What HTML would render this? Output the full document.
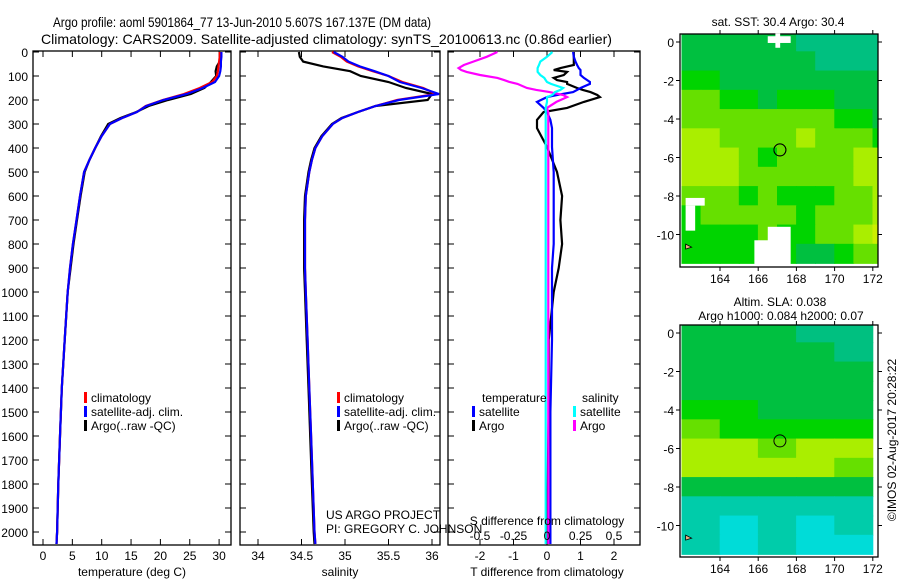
<!DOCTYPE html>
<html><head><meta charset="utf-8"><style>
body{margin:0;background:#fff}
svg{display:block;font-family:"Liberation Sans",sans-serif}
</style></head><body>
<svg id="c" width="900" height="580" viewBox="0 0 900 580">
<text x="53" y="27" font-size="14" textLength="378" lengthAdjust="spacingAndGlyphs">Argo profile: aoml 5901864_77 13-Jun-2010 5.607S 167.137E (DM data)</text>
<text x="41" y="44" font-size="14" textLength="571" lengthAdjust="spacingAndGlyphs">Climatology: CARS2009. Satellite-adjusted climatology: synTS_20100613.nc (0.86d earlier)</text>
</svg>
<script>
// ---- profile data ----
const depths=[0,20,40,60,80,100,125,150,175,200,225,250,275,300,350,400,450,500,600,700,800,900,1000,1200,1400,1600,1800,2000,2050];
const tempClim=[30.1,30.1,30.0,29.9,29.8,29.6,28.8,26.7,24,20.4,17.5,16.0,13.5,11.4,10,8.9,7.9,7.0,6.3,5.7,5.1,4.6,4.2,3.7,3.2,2.9,2.6,2.4,2.3];
const tempSat=[30.4,30.4,30.3,30.3,30.2,30.0,29.3,27.2,24.5,20.5,17.6,16.0,13.5,11.4,10,8.9,7.9,7.0,6.3,5.7,5.1,4.6,4.2,3.7,3.2,2.9,2.6,2.4,2.3];
const tempArgo=[30.1,30.2,30.1,29.6,29.4,29.5,28.6,27.5,25.2,21.3,18.0,15.9,13.2,11.1,9.9,8.9,7.9,7.1,6.4,5.8,5.2,4.7,4.2,3.7,3.2,2.9,2.6,2.4,2.3];
const salClim=[34.85,34.95,35.02,35.15,35.32,35.50,35.66,35.9,36.05,35.6,35.35,35.15,34.97,34.86,34.74,34.66,34.62,34.59,34.55,34.54,34.54,34.54,34.55,34.57,34.59,34.61,34.63,34.65,34.66];
const salSat=[34.87,34.97,35.04,35.17,35.34,35.50,35.63,35.88,36.08,35.62,35.35,35.15,34.97,34.86,34.74,34.66,34.62,34.59,34.55,34.54,34.54,34.54,34.55,34.57,34.59,34.61,34.63,34.65,34.66];
const salArgo=[34.47,34.48,34.52,34.75,35.06,35.18,35.5,35.7,36.0,35.95,35.35,35.15,34.96,34.85,34.73,34.65,34.61,34.58,34.54,34.53,34.53,34.53,34.54,34.56,34.58,34.6,34.62,34.64,34.65];
const diffDepths=[0,20,40,54,67,75,83,96,108,117,125,133,150,158,167,179,188,208,233,250,283,317,396,500,600,700,800,900,1000,1200,1500,2000,2050];
const tDiffSat=[.78,.8,.85,.9,.95,1.0,1.0,1.0,1.1,1.2,1.28,1.28,1.0,.9,.78,.3,0,-.3,-.1,0,.1,.15,.15,.2,.2,.2,.2,.15,.15,.15,.1,.1,.1];
const tDiffArgo=[.8,.8,.8,.8,.4,.2,.6,.5,.2,.3,.6,.6,.9,1.07,1.3,1.5,1.58,1.1,.6,-.1,-.3,-.3,0,.3,.45,.4,.45,.35,.2,.05,.05,0,0];
const sDiffSat=[.04,0,-.05,-.06,-.07,-.07,-.07,-.05,-.02,-.01,0,.03,.12,.1,.06,.04,0,0,-.01,-.01,-.01,-.01,-.01,-.01,-.01,-.01,-.01,-.01,-.01,-.01,-.01,-.01,-.01];
const sDiffArgo=[-.37,-.45,-.55,-.62,-.66,-.64,-.6,-.5,-.37,-.32,-.28,-.22,-.15,-.08,.02,.12,.15,.07,0,.01,.01,.01,.01,.01,.01,.01,.01,.01,.01,.01,.01,.01,.01];
const depthTicks=[0,100,200,300,400,500,600,700,800,900,1000,1100,1200,1300,1400,1500,1600,1700,1800,1900,2000];
const tempTicks=[0,5,10,15,20,25,30];
const salTicks=[34,34.5,35,35.5,36];
const tdTicks=[-2,-1,0,1,2];
const sdTicks=[-0.5,-0.25,0,0.25,0.5];
const sdTickLabels=["-0.5","-0.25","0","0.25","0.5"];
// ---- map data (levels) rows lat 0.5..-11.5 by 1deg, cols lon 162..172 ----
const sstGrid=[
[1,1,1,1,1,1,0,0,0,0,0],
[1,1,1,1,1,1,1,0,0,0,0],
[2,2,1,1,1,1,1,1,1,1,1],
[3,3,2,2,1,2,2,2,1,1,1],
[3,3,3,3,3,3,3,3,2,2,1],
[4,4,3,3,3,3,4,3,3,3,2],
[4,4,4,3,2,3,3,3,3,4,4],
[4,4,4,3,3,3,3,3,3,4,4],
[3,3,3,2,3,2,2,2,3,3,4],
[2,3,3,3,3,3,2,3,3,3,4],
[2,2,2,2,3,2,2,3,3,4,5],
[2,2,2,2,2,2,1,1,2,3,3]];
const slaGrid=[
[1,1,1,0,0],[1,1,1,1,0],[1,1,1,1,1],[1,1,1,1,1],[2,2,1,1,1],[3,2,2,2,2],
[4,4,3,4,4],[4,4,4,4,3],[1,1,1,1,1],[6,6,6,6,6],[6,7,6,7,6],[6,7,6,7,7]];
const lonTicks=[164,166,168,170,172];
const latTicks=[0,-2,-4,-6,-8,-10];
const floatLon=167.137, floatLat=-5.607;

const NS='http://www.w3.org/2000/svg';
const svg=document.getElementById('c');
function mk(tag,attrs,parent){const e=document.createElementNS(NS,tag);for(const k in attrs)e.setAttribute(k,attrs[k]);(parent||svg).appendChild(e);return e;}
function txt(x,y,s,size,anchor,parent){const t=mk('text',{x:x,y:y,'font-size':size||12,'text-anchor':anchor||'start'},parent);t.textContent=s;return t;}
const Y=d=>52+0.24*d;
const TOP=51,BOT=545;

function panel(name,x0,x1,X,ticks,labels,ylabels){
  const g=mk('g',{});
  
  
  const f=mk('rect',{x:x0,y:TOP,width:x1-x0,height:BOT-TOP,fill:'none',stroke:'#000','stroke-width':1.3},g);
  
  
  depthTicks.forEach(d=>{
    mk('line',{x1:x0,x2:x0+6,y1:Y(d),y2:Y(d),stroke:'#000'},g);
    mk('line',{x1:x1,x2:x1-6,y1:Y(d),y2:Y(d),stroke:'#000'},g);
    if(ylabels){const t=txt(28,Y(d)+5,String(d),12,'end',g);
      
      }
  });
  ticks.forEach((v,i)=>{
    mk('line',{x1:X(v),x2:X(v),y1:TOP,y2:TOP+6,stroke:'#000'},g);
    mk('line',{x1:X(v),x2:X(v),y1:BOT,y2:BOT-6,stroke:'#000'},g);
    if(labels){const t=txt(X(v),560,labels[i],12,'middle',g);
      
      }
  });
  return g;
}
function line(vals,dep,X,color,name,w){
  const p=mk('polyline',{points:vals.map((v,i)=>X(v).toFixed(1)+','+Y(dep[i]).toFixed(1)).join(' '),fill:'none',stroke:color,'stroke-width':w||2.2});
  
  
}
function legend(x,y,items){
  items.forEach((it,i)=>{
    const r=mk('rect',{x:x,y:y+i*14-10,width:3,height:11,fill:it[0]});
    
    
    const t=txt(x+7,y+i*14,it[1],12);
    
    
  });
}
// panel 1 temperature
const XT=v=>43+v*5.87;
panel('temperature-panel',33,231,XT,tempTicks,tempTicks.map(String),true);
line(tempArgo,depths,XT,'#000','temp-argo-line');
line(tempClim,depths,XT,'#f00','temp-clim-line');
line(tempSat,depths,XT,'#00f','temp-sat-line');
let t=txt(132,576,'temperature (deg C)',12,'middle');
legend(84,402,[['#f00','climatology'],['#00f','satellite-adj. clim.'],['#000','Argo(..raw -QC)']]);
// panel 2 salinity
const XS=v=>258+(v-34)*87;
panel('salinity-panel',240,440,XS,salTicks,salTicks.map(String),false);
line(salArgo,depths,XS,'#000','sal-argo-line');
line(salClim,depths,XS,'#f00','sal-clim-line');
line(salSat,depths,XS,'#00f','sal-sat-line');
t=txt(340,576,'salinity',12,'middle');
legend(337,402,[['#f00','climatology'],['#00f','satellite-adj. clim.'],['#000','Argo(..raw -QC)']]);
t=txt(326,519,'US ARGO PROJECT',12);
t=txt(326,533,'PI: GREGORY C. JOHNSON',12);
// panel 3 differences
const XTD=v=>547+v*33.5, XSD=v=>547+v*134;
panel('difference-panel',448,640,XTD,tdTicks,tdTicks.map(String),false);
line(tDiffArgo,diffDepths,XTD,'#000','tdiff-argo-line');
line(tDiffSat,diffDepths,XTD,'#00f','tdiff-sat-line');
line(sDiffArgo,diffDepths,XSD,'#f0f','sdiff-argo-line');
line(sDiffSat,diffDepths,XSD,'#0ff','sdiff-sat-line');
sdTicks.forEach((v,i)=>{const s=txt(XSD(v),540,sdTickLabels[i],12,'middle');});
t=txt(547,525,'S difference from climatology',12,'middle');
t=txt(547,576,'T difference from climatology',12,'middle');
t=txt(482,402,'temperature',12);
t=txt(582,402,'salinity',12);
legend(472,416,[['#00f','satellite'],['#000','Argo']]);
legend(573,416,[['#0ff','satellite'],['#f0f','Argo']]);

// maps
const palette=['#00c080','#00c040','#00d400','#66e000','#aaee00','#ccee00','#00ccaa','#00dcd8'];
function map(name,y0,y1,lat0y,grid,cellW){
  const LX=v=>720+(v-164)*19.1, LY=v=>lat0y-v*19.25;
  const g=mk('g',{});
  
  
  const cp=mk('clipPath',{id:name+'-clip'},g);mk('rect',{x:680,y:y0,width:198,height:y1-y0},cp);
  const cg=mk('g',{'clip-path':'url(#'+name+'-clip)'},g);
  grid.forEach((row,r)=>row.forEach((v,c)=>{
    const lon=162+c*cellW, lat=0.5-r;
    const cell=mk('rect',{x:LX(lon)-0.3,y:LY(lat)-0.3,width:cellW*19.1+0.8,height:19.25+0.8,fill:palette[v]},cg);
    
    
  }));
  const fr=mk('rect',{x:680,y:y0,width:198,height:y1-y0,fill:'none',stroke:'#000','stroke-width':1.3},g);
  
  lonTicks.forEach(v=>{mk('line',{x1:LX(v),x2:LX(v),y1:y0,y2:y0-4,stroke:'#000'},g);mk('line',{x1:LX(v),x2:LX(v),y1:y1,y2:y1+4,stroke:'#000'},g);
    const l=txt(LX(v),y1+16,String(v),12,'middle',g);});
  latTicks.forEach(v=>{mk('line',{x1:680,x2:676,y1:LY(v),y2:LY(v),stroke:'#000'},g);mk('line',{x1:878,x2:882,y1:LY(v),y2:LY(v),stroke:'#000'},g);
    const l=txt(674,LY(v)+5,String(v),12,'end',g);});
  const fl=mk('circle',{cx:LX(floatLon),cy:LY(floatLat),r:6,fill:'none',stroke:'#000','stroke-width':1},g);
  
  const land=mk('path',{d:`M${LX(162.2)},${LY(-10.5)} l6,3 l-6,2z`,fill:'#f0b080',stroke:'#000','stroke-width':0.8},g);
  
  return {g,LX,LY};
}
const m1=map('sst-map',34,267,42,sstGrid,1);
// missing-data patches
[[166.5,0.3,1.2,0.35],[166.9,0.45,0.25,0.75],[162.2,-8.1,1.0,0.4],[162.2,-8.5,0.5,1.3],[166.5,-9.6,1.2,2.0],[165.8,-10.3,0.8,1.3]].forEach(p=>{
  const r=mk('rect',{x:m1.LX(p[0]),y:m1.LY(p[1]),width:p[2]*19.1,height:p[3]*19.25,fill:'#fff'},m1.g);
  
});
mk('circle',{cx:m1.LX(floatLon),cy:m1.LY(floatLat),r:6,fill:'none',stroke:'#000'},m1.g);
const m2=map('sla-map',325,557,333,slaGrid,2);
t=txt(778,26,'sat. SST: 30.4  Argo: 30.4',12,'middle');
t=txt(780,306,'Altim. SLA: 0.038',12,'middle');
t=txt(781,320,'Argo h1000: 0.084 h2000: 0.07',12,'middle');
t=txt(0,0,'©IMOS 02-Aug-2017 20:28:22',12,'middle');t.setAttribute('transform','translate(896,440) rotate(-90)');

</script>
</body></html>
